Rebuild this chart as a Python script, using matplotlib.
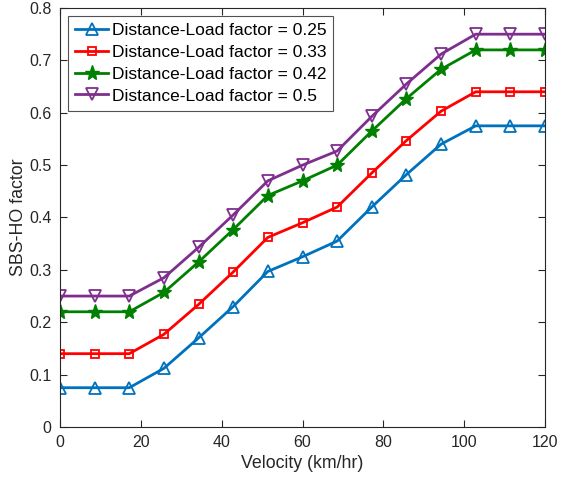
import numpy as np
import matplotlib
matplotlib.use("Agg")
import matplotlib.pyplot as plt

velocity = np.linspace(0, 120, 15)
f025 = [0.075, 0.075, 0.075, 0.112, 0.170, 0.230, 0.297, 0.325, 0.355, 0.420, 0.482, 0.540, 0.575, 0.575, 0.575]
f033 = [0.140, 0.140, 0.140, 0.177, 0.234, 0.296, 0.362, 0.390, 0.420, 0.485, 0.547, 0.603, 0.640, 0.640, 0.640]
f042 = [0.220, 0.220, 0.220, 0.257, 0.315, 0.377, 0.442, 0.470, 0.500, 0.565, 0.627, 0.683, 0.720, 0.720, 0.720]
f050 = [0.250, 0.250, 0.250, 0.285, 0.343, 0.405, 0.470, 0.500, 0.527, 0.593, 0.655, 0.712, 0.750, 0.750, 0.750]
labels = ["Distance-Load factor = 0.25", "Distance-Load factor = 0.33",
          "Distance-Load factor = 0.42", "Distance-Load factor = 0.5"]

plt.rcParams['font.family'] = ['Liberation Sans', 'DejaVu Sans']
fig = plt.figure(figsize=(5.61, 4.87), dpi=100)
ax = fig.add_axes([60/561, 1-427/487, 485/561, 419/487])

styles = [
    (f025, '#0072BD', '^', 9),
    (f033, '#FF0000', 's', 6),
    (f042, '#008000', '*', 11),
    (f050, '#7E2F8E', 'v', 9),
]
for (ys, c, m, ms), lab in zip(styles, labels):
    ax.plot(velocity, ys, color=c, marker=m, markersize=ms,
            markerfacecolor=(c if m == '*' else 'none'),
            markeredgecolor=c, markeredgewidth=1.3 if m != '*' else 1.0, linewidth=2, label=lab)

ax.set_xlim(0, 120)
ax.set_ylim(0, 0.8)
ax.set_xticks(np.arange(0, 121, 20))
ax.set_yticks(np.arange(0, 0.81, 0.1))
ax.set_yticklabels(['0', '0.1', '0.2', '0.3', '0.4', '0.5', '0.6', '0.7', '0.8'])
ax.tick_params(direction='in', length=5, labelsize=11.5, colors='#262626', top=True, right=True, pad=6)
for s in ax.spines.values():
    s.set_color('#262626')
    s.set_linewidth(0.8)
ax.set_xlabel('Velocity (km/hr)', fontsize=12.8, color='#262626', labelpad=3)
ax.set_ylabel('SBS-HO factor', fontsize=12.8, color='#262626', labelpad=2)
leg = ax.legend(loc='upper left', fontsize=12.5, frameon=True, fancybox=False,
                edgecolor='#262626', handlelength=1.9, borderaxespad=0.45,
                labelspacing=0.38, handletextpad=0.2, borderpad=0.42)
leg.get_frame().set_linewidth(0.8)
fig.savefig('out.png', dpi=100)
